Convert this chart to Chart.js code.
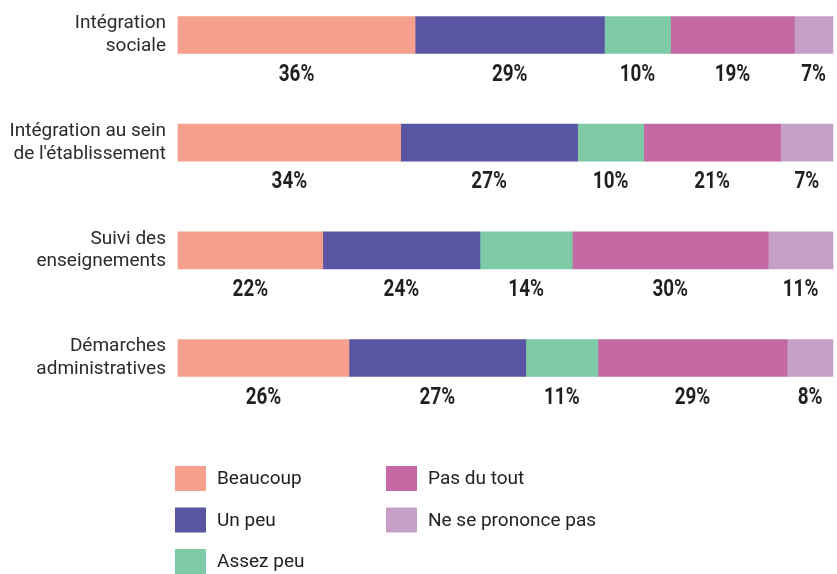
<!DOCTYPE html>
<html>
<head>
<meta charset="utf-8">
<script src="https://cdn.jsdelivr.net/npm/chart.js@4/dist/chart.umd.min.js"></script>
<style>
  html, body { margin: 0; padding: 0; background: #ffffff; }
  #wrap { width: 837px; height: 574px; position: relative; }
</style>
</head>
<body>
<div id="wrap"><canvas id="c" width="837" height="574"></canvas></div>
<script>
// ---- Data ----
const categories = [
  ['Intégration', 'sociale'],
  ['Intégration au sein', "de l'établissement"],
  ['Suivi des', 'enseignements'],
  ['Démarches', 'administratives']
];
const seriesNames = ['Beaucoup', 'Un peu', 'Assez peu', 'Pas du tout', 'Ne se prononce pas'];
// bar segment shares
const beaucoup   = [36.2, 34.0, 22.1, 26.1];
const unPeu      = [28.9, 27.0, 24.0, 27.0];
const assezPeu   = [10.1, 10.1, 14.1, 11.0];
const pasDuTout  = [18.9, 20.9, 29.9, 28.9];
const nspp       = [5.9, 8.0, 9.9, 7.0];
// printed percentage labels
const labelsBeaucoup  = ['36%', '34%', '22%', '26%'];
const labelsUnPeu     = ['29%', '27%', '24%', '27%'];
const labelsAssezPeu  = ['10%', '10%', '14%', '11%'];
const labelsPasDuTout = ['19%', '21%', '30%', '29%'];
const labelsNspp      = ['7%', '7%', '11%', '8%'];

const colors = ['#F5A08C', '#5A55A3', '#7ECAA6', '#C469A4', '#C7A0C8'];

const seriesValues = [beaucoup, unPeu, assezPeu, pasDuTout, nspp];
const seriesLabels = [labelsBeaucoup, labelsUnPeu, labelsAssezPeu, labelsPasDuTout, labelsNspp];

const datasets = seriesNames.map((name, i) => ({
  label: name,
  data: seriesValues[i],
  valueLabels: seriesLabels[i],
  backgroundColor: colors[i],
  borderWidth: 0,
  barThickness: 37,
  clip: false
}));

// ---- Plugins ----
const belowLabels = {
  id: 'belowLabels',
  afterDatasetsDraw(chart) {
    const ctx = chart.ctx;
    const right = chart.chartArea.right;
    ctx.save();
    ctx.fillStyle = '#231f20';
    ctx.font = 'bold 23px Roboto';
    ctx.textAlign = 'center';
    ctx.textBaseline = 'middle';
    const sx = 0.82;
    chart.data.datasets.forEach((ds, di) => {
      const meta = chart.getDatasetMeta(di);
      meta.data.forEach((bar, j) => {
        const txt = ds.valueLabels[j];
        const cx0 = (bar.base + bar.x) / 2;
        const w = ctx.measureText(txt).width * sx;
        let cx = cx0;
        if (cx + w / 2 > right - 1) cx = right - 1 - w / 2;
        const cy = bar.y + 40;
        ctx.save();
        ctx.translate(cx, cy);
        ctx.scale(sx, 1);
        ctx.fillText(txt, 0, 0);
        ctx.restore();
      });
    });
    ctx.restore();
  }
};

const columnLegend = {
  id: 'columnLegend',
  afterDraw(chart, args, opts) {
    const ctx = chart.ctx;
    ctx.save();
    ctx.font = '19px Roboto';
    ctx.fillStyle = '#222222';
    ctx.textBaseline = 'middle';
    ctx.textAlign = 'left';
    chart.data.datasets.forEach((ds, i) => {
      const col = Math.floor(i / opts.rows);
      const row = i % opts.rows;
      const x = opts.colX[col];
      const y = opts.top + row * opts.rowGap;
      ctx.fillStyle = ds.backgroundColor;
      ctx.fillRect(x, y, opts.boxW, opts.boxH);
      ctx.fillStyle = '#222222';
      ctx.fillText(ds.label, x + opts.boxW + 11, y + opts.boxH / 2 + 1);
    });
    ctx.restore();
  }
};

new Chart(document.getElementById('c'), {
  type: 'bar',
  data: { labels: categories, datasets },
  plugins: [belowLabels, columnLegend],
  options: {
    indexAxis: 'y',
    responsive: false,
    animation: false,
    events: [],
    layout: { padding: { top: 35, bottom: 216, left: 0, right: 4 } },
    scales: {
      x: {
        stacked: true, min: 0, max: 100, display: false,
        grid: { display: false }
      },
      y: {
        stacked: true, offset: false,
        grid: { display: false, drawTicks: false },
        border: { display: false },
        ticks: {
          padding: 12,
          color: '#2b2b2b',
          font: { family: 'Roboto', size: 19, lineHeight: 1.2 }
        },
        afterFit(scale) { scale.width = 178; }
      }
    },
    plugins: {
      legend: { display: false },
      tooltip: { enabled: false },
      columnLegend: { rows: 3, colX: [175, 386], top: 466, rowGap: 41.5, boxW: 31, boxH: 25 }
    }
  }
});
</script>
</body>
</html>
